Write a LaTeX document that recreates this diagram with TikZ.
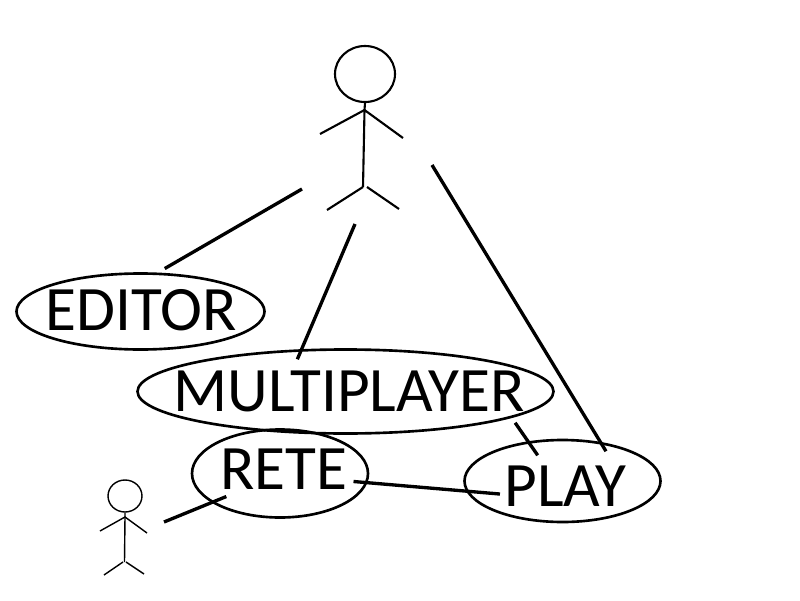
\documentclass[tikz,border=0pt]{standalone}
\usepackage{fontspec}
\setmainfont{Carlito}
\usetikzlibrary{shapes.geometric,positioning}
\tikzset{usecase/.style={ellipse,draw,line width=0.75pt,inner sep=0pt}}
\tikzset{casename/.style={inner sep=0pt,font=\fontsize{18}{20}\selectfont}}
\tikzset{link/.style={draw,line width=0.95pt}}
\tikzset{head/.style={ellipse,draw,inner sep=0pt}}
\tikzset{bigman/.style={draw,line width=0.6pt}}
\tikzset{smallman/.style={draw,line width=0.4pt}}

\begin{document}
\begin{tikzpicture}
    \useasboundingbox (0,0) rectangle (8,6);

    \node[head,line width=0.6pt,minimum width=0.6cm,minimum height=0.56cm] (bighead) at (3.65,5.26) {};
    \node[head,line width=0.4pt,minimum width=0.34cm,minimum height=0.32cm] (smallhead) at (1.25,1.04) {};

    \node[usecase,minimum width=2.48cm,minimum height=0.76cm] (editor) at (1.405,2.885) {};
    \node[usecase,minimum width=4.16cm,minimum height=0.84cm] (multiplayer) at (3.455,2.085) {};
    \node[usecase,minimum width=1.76cm,minimum height=0.88cm] (rete) at (2.80,1.265) {};
    \node[usecase,minimum width=1.96cm,minimum height=0.82cm] (play) at (5.625,1.19) {};

    \node[casename] (editorname) at (1.41,2.90) {EDITOR};
    \node[casename] (multiplayername) at (3.49,2.09) {MULTIPLAYER};
    \node[casename] (retename) at (2.84,1.31) {RETE};
    \node[casename] (playname) at (5.655,1.14) {PLAY};

    \coordinate (bigneck) at (3.645,4.90);
    \coordinate (bighip) at (3.63,4.13);
    \coordinate (smallneck) at (1.25,0.83);
    \coordinate (smallhip) at (1.245,0.38);

    \coordinate (toeditor) at (3.02,4.11);
    \coordinate (tomulti) at (3.55,3.76);
    \coordinate (toplay) at (4.32,4.35);
    \coordinate (fromsmall) at (1.64,0.78);

    % big man
    \path[bigman] (bighead.south) -- (bigneck) -- (bighip);
    \path[bigman] (3.20,4.66) -- (bigneck) -- (4.03,4.62);
    \path[bigman] (3.27,3.90) -- (bighip);
    \path[bigman] (3.67,4.13) -- (3.99,3.91);

    % small man
    \path[smallman] (smallhead.south) -- (smallneck) -- (smallhip);
    \path[smallman] (1.00,0.69) -- (smallneck) -- (1.47,0.67);
    \path[smallman] (1.04,0.25) -- (1.23,0.38);
    \path[smallman] (1.26,0.38) -- (1.44,0.26);

    \path[link,shorten >=0.08cm] (toeditor) -- (editor.66);
    \path[link,shorten >=-0.11cm] (tomulti) -- (multiplayer.136.4);
    \path[link,shorten >=-0.11cm] (toplay) -- (play.46.5);
    \path[link,shorten <=0.06cm,shorten >=-0.17cm] (multiplayer.-9) -- (play.131);
    \path[link,shorten <=-0.14cm,shorten >=-0.34cm] (rete.-6.6) -- (play.186);
    \path[link,shorten >=-0.16cm] (fromsmall) -- (rete.203.6);
\end{tikzpicture}
\end{document}
